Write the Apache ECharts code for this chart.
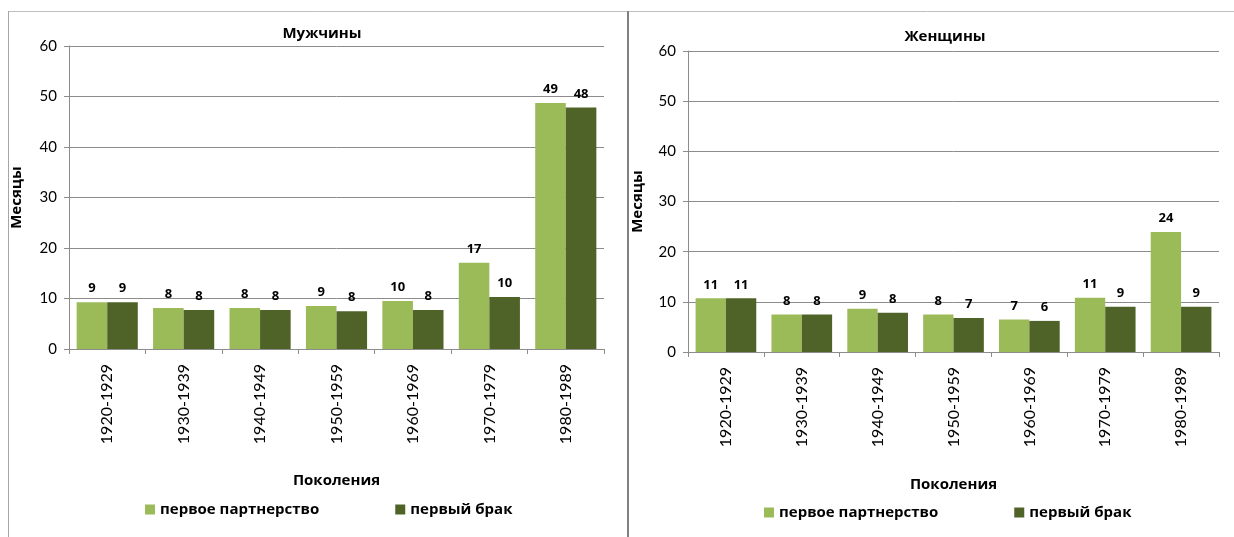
<!DOCTYPE html>
<html><head><meta charset="utf-8">
<script src="https://cdn.jsdelivr.net/npm/echarts@6/dist/echarts.min.js"></script>
<style>html,body{margin:0;padding:0;background:#fff}#c{width:1234px;height:537px}</style>
</head><body><div id="c"></div>
<script>
const categories = ['1920-1929','1930-1939','1940-1949','1950-1959','1960-1969','1970-1979','1980-1989'];
const menPartnership = [9.25, 8.1, 8.1, 8.5, 9.5, 17.1, 48.7];
const menMarriage = [9.25, 7.7, 7.7, 7.5, 7.7, 10.3, 47.8];
const womenPartnership = [10.7, 7.5, 8.6, 7.5, 6.5, 10.8, 23.9];
const womenMarriage = [10.7, 7.5, 7.8, 6.8, 6.2, 9.0, 9.0];
const yTicks = [0, 10, 20, 30, 40, 50, 60];
const seriesNames = ['первое партнерство', 'первый брак'];
const titles = ['Мужчины', 'Женщины'];
const yName = 'Месяцы';
const xName = 'Поколения';

const FONT = 'Lato';
const BFONT = 'Open Sans';
const LIGHT = '#9BBB59', DARK = '#4F6228', GRID = '#8c8c8c';
const chart = echarts.init(document.getElementById('c'));
const boldText = {fontFamily:BFONT,fontWeight:'bold',fontSize:15,color:'#000'};

function xAxis(gi){
  return {
    type:'category', gridIndex:gi, data:categories,
    name:xName, nameLocation:'middle', nameGap: gi===0?124:125,
    nameTextStyle:boldText,
    axisLine:{lineStyle:{color:GRID,width:1}},
    axisTick:{show:true,length:5,lineStyle:{color:GRID}},
    axisLabel:{rotate:90,fontFamily:FONT,fontSize:16,color:'#000',margin:15}
  };
}
function yAxis(gi){
  return {
    type:'value', gridIndex:gi, min:yTicks[0], max:yTicks[yTicks.length-1], interval:10,
    name:yName, nameLocation:'middle', nameGap: gi===0?45:43,
    nameTextStyle:boldText,
    axisLine:{show:true,lineStyle:{color:GRID,width:1}},
    axisTick:{show:true,length:5,lineStyle:{color:GRID}},
    axisLabel:{fontFamily:FONT,fontSize:15,color:'#000',margin:12},
    splitLine:{lineStyle:{color:GRID,width:1}}
  };
}
function bar(name,data,color,gi){
  return {
    type:'bar', name, data, xAxisIndex:gi, yAxisIndex:gi,
    barGap:'0%', barCategoryGap:'20%',
    itemStyle:{color},
    label:{show:true,position:'top',distance:7,fontFamily:BFONT,fontWeight:'bold',fontSize:13,color:'#000',
      formatter:p=>Math.round(p.value)},
    emphasis:{disabled:true}
  };
}
chart.setOption({
  animation:false,
  title:[
    {text:titles[0],left:317,top:21,textAlign:'center',textStyle:boldText},
    {text:titles[1],left:940,top:24,textAlign:'center',textStyle:boldText}
  ],
  legend:[
    {data:seriesNames,left:140,top:497,itemWidth:10,itemHeight:10,itemGap:76,icon:'rect',textStyle:boldText},
    {data:seriesNames,left:759,top:500,itemWidth:10,itemHeight:10,itemGap:76,icon:'rect',textStyle:boldText}
  ],
  grid:[
    {left:69,right:630,top:46,bottom:188},
    {left:688,right:15,top:51,bottom:185}
  ],
  xAxis:[xAxis(0),xAxis(1)],
  yAxis:[yAxis(0),yAxis(1)],
  series:[
    bar(seriesNames[0],menPartnership,LIGHT,0),
    bar(seriesNames[1],menMarriage,DARK,0),
    bar(seriesNames[0],womenPartnership,LIGHT,1),
    bar(seriesNames[1],womenMarriage,DARK,1)
  ],
  graphic:[
    {type:'line',shape:{x1:8,y1:11.5,x2:1234,y2:11.5},style:{stroke:'#bfbfbf',lineWidth:1}},
    {type:'line',shape:{x1:8.5,y1:11,x2:8.5,y2:537},style:{stroke:'#a6a6a6',lineWidth:1}},
    {type:'line',shape:{x1:628,y1:11,x2:628,y2:537},style:{stroke:'#808080',lineWidth:2}}
  ]
});
</script></body></html>
